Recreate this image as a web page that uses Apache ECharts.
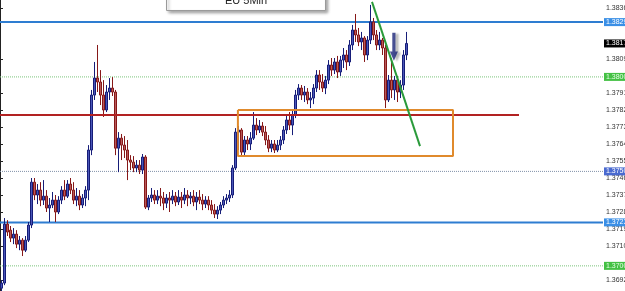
<!DOCTYPE html>
<html><head><meta charset="utf-8">
<script src="https://cdn.jsdelivr.net/npm/echarts@6/dist/echarts.min.js"></script>
<style>html,body{margin:0;padding:0;background:#fff}#c{width:625px;height:291px}</style>
</head><body><div id="c"></div>
<script>
// ---- candle data (EURUSD 5 min) ----
const opens = [1.36882,1.36909,1.37221,1.37189,1.37147,1.37168,1.37115,1.37136,1.37083,1.37136,
1.37216,1.37443,1.37375,1.37401,1.37348,1.37369,1.37306,1.37322,1.37348,1.37285,
1.37348,1.37401,1.37369,1.37433,1.37401,1.37348,1.37369,1.37322,1.37359,1.37401,
1.37613,1.37904,1.37994,1.37973,1.37904,1.37825,1.37920,1.37941,1.37920,1.37623,
1.37676,1.37639,1.37613,1.37560,1.37549,1.37518,1.37533,1.37507,1.37576,1.37311,
1.37359,1.37375,1.37348,1.37369,1.37359,1.37332,1.37359,1.37348,1.37369,1.37338,
1.37364,1.37348,1.37375,1.37359,1.37369,1.37338,1.37364,1.37348,1.37327,1.37348,
1.37322,1.37295,1.37274,1.37295,1.37322,1.37348,1.37359,1.37375,1.37518,1.37708,
1.37719,1.37602,1.37666,1.37645,1.37676,1.37745,1.37719,1.37740,1.37708,1.37666,
1.37623,1.37645,1.37613,1.37639,1.37666,1.37719,1.37772,1.37745,1.37798,1.37904,
1.37941,1.37904,1.37920,1.37878,1.37888,1.37941,1.38010,1.37973,1.37941,1.37983,
1.38063,1.38036,1.38079,1.38026,1.38089,1.38116,1.38079,1.38169,1.38248,1.38222,
1.38185,1.38206,1.38116,1.38195,1.38291,1.38222,1.38169,1.38195,1.38153,1.37878,
1.37983,1.37931,1.37983,1.37920,1.37957,1.38116];
const closes = [1.36909,1.37221,1.37179,1.37147,1.37168,1.37115,1.37136,1.37083,1.37136,1.37216,
1.37443,1.37375,1.37401,1.37348,1.37369,1.37306,1.37322,1.37348,1.37285,1.37348,
1.37401,1.37369,1.37433,1.37401,1.37348,1.37369,1.37322,1.37359,1.37401,1.37613,
1.37904,1.37994,1.37973,1.37904,1.37825,1.37920,1.37941,1.37920,1.37623,1.37676,
1.37639,1.37613,1.37560,1.37549,1.37518,1.37533,1.37507,1.37576,1.37311,1.37359,
1.37375,1.37348,1.37369,1.37359,1.37332,1.37359,1.37348,1.37369,1.37338,1.37364,
1.37348,1.37375,1.37359,1.37369,1.37338,1.37364,1.37348,1.37327,1.37348,1.37322,
1.37295,1.37274,1.37295,1.37322,1.37348,1.37359,1.37375,1.37518,1.37708,1.37719,
1.37602,1.37666,1.37645,1.37676,1.37745,1.37719,1.37740,1.37708,1.37666,1.37623,
1.37645,1.37613,1.37639,1.37666,1.37719,1.37772,1.37745,1.37798,1.37904,1.37941,
1.37904,1.37920,1.37878,1.37888,1.37941,1.38010,1.37973,1.37941,1.37983,1.38063,
1.38036,1.38079,1.38026,1.38089,1.38116,1.38079,1.38169,1.38248,1.38222,1.38185,
1.38206,1.38116,1.38195,1.38291,1.38222,1.38169,1.38195,1.38153,1.37878,1.37983,
1.37931,1.37983,1.37920,1.37957,1.38116,1.38177];
const lows = [1.36866,1.36898,1.37158,1.37126,1.37115,1.37094,1.37083,1.37052,1.37073,1.37126,
1.37200,1.37348,1.37327,1.37316,1.37322,1.37285,1.37232,1.37306,1.37232,1.37274,
1.37327,1.37348,1.37359,1.37380,1.37327,1.37316,1.37295,1.37306,1.37316,1.37348,
1.37586,1.37878,1.37920,1.37851,1.37788,1.37814,1.37878,1.37899,1.37586,1.37496,
1.37560,1.37571,1.37454,1.37507,1.37496,1.37496,1.37486,1.37486,1.37301,1.37295,
1.37338,1.37327,1.37327,1.37316,1.37295,1.37306,1.37285,1.37327,1.37316,1.37322,
1.37306,1.37327,1.37316,1.37327,1.37316,1.37295,1.37327,1.37295,1.37306,1.37295,
1.37274,1.37253,1.37248,1.37274,1.37306,1.37327,1.37338,1.37359,1.37507,1.37613,
1.37581,1.37586,1.37613,1.37613,1.37666,1.37692,1.37703,1.37687,1.37639,1.37602,
1.37602,1.37597,1.37602,1.37613,1.37645,1.37698,1.37719,1.37692,1.37782,1.37878,
1.37878,1.37867,1.37856,1.37835,1.37856,1.37920,1.37931,1.37920,1.37909,1.37962,
1.38005,1.38015,1.37994,1.38005,1.38047,1.38036,1.38058,1.38142,1.38185,1.38163,
1.38142,1.38079,1.38089,1.38174,1.38195,1.38142,1.38142,1.38116,1.37835,1.37867,
1.37888,1.37878,1.37867,1.37888,1.37931,1.38089];
const highs = [1.36925,1.37253,1.37242,1.37211,1.37200,1.37189,1.37158,1.37147,1.37158,1.37232,
1.37465,1.37465,1.37433,1.37443,1.37454,1.37401,1.37359,1.37391,1.37375,1.37369,
1.37422,1.37454,1.37454,1.37465,1.37443,1.37412,1.37401,1.37380,1.37422,1.37639,
1.37931,1.38079,1.38169,1.38036,1.37983,1.37957,1.37994,1.37999,1.37931,1.37708,
1.37698,1.37687,1.37666,1.37586,1.37581,1.37560,1.37560,1.37592,1.37586,1.37375,
1.37412,1.37401,1.37401,1.37412,1.37391,1.37380,1.37391,1.37401,1.37391,1.37401,
1.37391,1.37412,1.37401,1.37391,1.37401,1.37391,1.37401,1.37380,1.37369,1.37369,
1.37348,1.37327,1.37316,1.37338,1.37369,1.37380,1.37401,1.37533,1.37729,1.37740,
1.37729,1.37687,1.37687,1.37708,1.37814,1.37782,1.37772,1.37761,1.37740,1.37692,
1.37666,1.37666,1.37666,1.37687,1.37740,1.37793,1.37814,1.37825,1.37931,1.37962,
1.37957,1.37952,1.37941,1.37920,1.37962,1.38036,1.38036,1.38015,1.38005,1.38089,
1.38100,1.38100,1.38111,1.38111,1.38153,1.38142,1.38195,1.38275,1.38333,1.38259,
1.38238,1.38216,1.38216,1.38381,1.38312,1.38248,1.38238,1.38206,1.38169,1.38010,
1.38100,1.38005,1.38005,1.37983,1.38142,1.38238];

// ---- axis ----
const totalSlots = 201;           // bars visible + empty space to the right
const yMin = 1.36867, yMax = 1.38407;
const tickLabels = [1.38365,1.38095,1.37915,1.37825,1.37735,1.37645,1.37555,1.37465,1.37375,1.37285,1.37195,1.37105,1.36925];

// ---- horizontal levels ----
const levelUpperBlue = 1.38290;
const levelLowerBlue = 1.37230;
const levelGreenHigh = 1.38000;
const levelGreenLow = 1.37000;
const levelGray = 1.37500;
const lastPrice = 1.38177;

// ---- drawn objects (bar-index units on x) ----
const redLineX = [0, 173];
const redLineY = [1.37798, 1.37798];
const boxX = [79.3, 151];
const boxY = [1.37581, 1.37825];
const trendX = [124, 140];
const trendY = [1.38397, 1.37634];
const arrowPos = [131.3, 1.38159];

const categories = [];
for (let i = 0; i < totalSlots; i++) categories.push(String(i));
const candles = opens.map((o, i) => [o, closes[i], lows[i], highs[i]]);

const fmt = v => Number(v).toFixed(5);
function level(value, lineColor, type, width, bg, txt, z) {
  return {
    type: 'line', xAxisIndex: 1, silent: true, showSymbol: false, symbol: 'none', z: z || 1,
    lineStyle: { color: lineColor, type: type, width: width },
    data: [[0, value], [totalSlots, value]],
    endLabel: { show: true, distance: 1, formatter: () => fmt(value),
      backgroundColor: bg, color: txt, fontSize: 7, fontFamily: 'Liberation Sans', padding: [1, 2, 0, 2] }
  };
}
function plain(xs, ys, color, width) {
  return { type: 'line', xAxisIndex: 1, silent: true, showSymbol: false, symbol: 'none', z: 3,
    lineStyle: { color: color, width: width }, data: xs.map((x, i) => [x, ys[i]]) };
}

const chart = echarts.init(document.getElementById('c'), null, { renderer: 'canvas' });
chart.setOption({
  animation: false,
  backgroundColor: '#ffffff',
  title: {
    text: 'EU 5Min', left: 166, top: -10, padding: [5, 59, 5, 59],
    backgroundColor: '#ffffff', borderColor: '#9a9a9a', borderWidth: 1,
    shadowBlur: 3, shadowColor: 'rgba(0,0,0,0.35)', shadowOffsetX: 2, shadowOffsetY: 2,
    textStyle: { fontSize: 11, fontWeight: 'normal', color: '#222', fontFamily: 'Liberation Sans' }
  },
  grid: { left: 0, right: 22, top: 0, bottom: 0, containLabel: false, outerBoundsMode: 'none' },
  xAxis: [
    { type: 'category', data: categories, boundaryGap: true, show: false },
    { type: 'value', min: 0, max: totalSlots, interval: 3, show: false }
  ],
  yAxis: {
    type: 'value', position: 'right', min: yMin, max: yMax, scale: true,
    axisLine: { show: true, lineStyle: { color: '#222', width: 1 } },
    axisTick: { show: true, inside: false, length: 3, lineStyle: { color: '#222' }, customValues: tickLabels },
    axisLabel: { show: true, margin: 3, fontSize: 7, color: '#333', fontFamily: 'Liberation Sans',
      customValues: tickLabels, formatter: v => fmt(v) },
    splitLine: { show: false }
  },
  series: [
    level(levelUpperBlue, '#2e7dd1', 'solid', 2, '#3a8fe6', '#ffffff'),
    level(lastPrice, 'rgba(0,0,0,0)', 'solid', 0, '#000000', '#ffffff'),
    level(levelGreenHigh, '#7cc47c', 'dotted', 1, '#44c044', '#e6ffe6'),
    level(levelGray, '#8090a8', 'dotted', 1, '#4a6ad0', '#ffffff'),
    level(levelLowerBlue, '#2e7dd1', 'solid', 2, '#3a8fe6', '#ffffff'),
    level(levelGreenLow, '#7cc47c', 'dotted', 1, '#44c044', '#e6ffe6'),
    {
      type: 'candlestick', xAxisIndex: 0, data: candles, barWidth: 3, z: 2,
      itemStyle: { color: '#4a56b8', color0: '#b85a5a', borderColor: '#161d78', borderColor0: '#861818', borderWidth: 1 }
    },
    plain(redLineX, redLineY, '#b22222', 2),
    plain([boxX[0], boxX[1], boxX[1], boxX[0], boxX[0]], [boxY[1], boxY[1], boxY[0], boxY[0], boxY[1]], '#e08a2c', 2),
    plain(trendX, trendY, '#2a9a3a', 2),
    {
      type: 'scatter', xAxisIndex: 1, silent: true, z: 4,
      symbol: 'path://M3,0 L7,0 L7,20 L10,20 L5,30 L0,20 L3,20 Z', symbolSize: [8, 28],
      itemStyle: { color: '#1a2478', shadowColor: 'rgba(0,0,0,0.35)', shadowBlur: 2, shadowOffsetX: 3, shadowOffsetY: 1 },
      data: [arrowPos]
    }
  ]
});
</script>
</body></html>
